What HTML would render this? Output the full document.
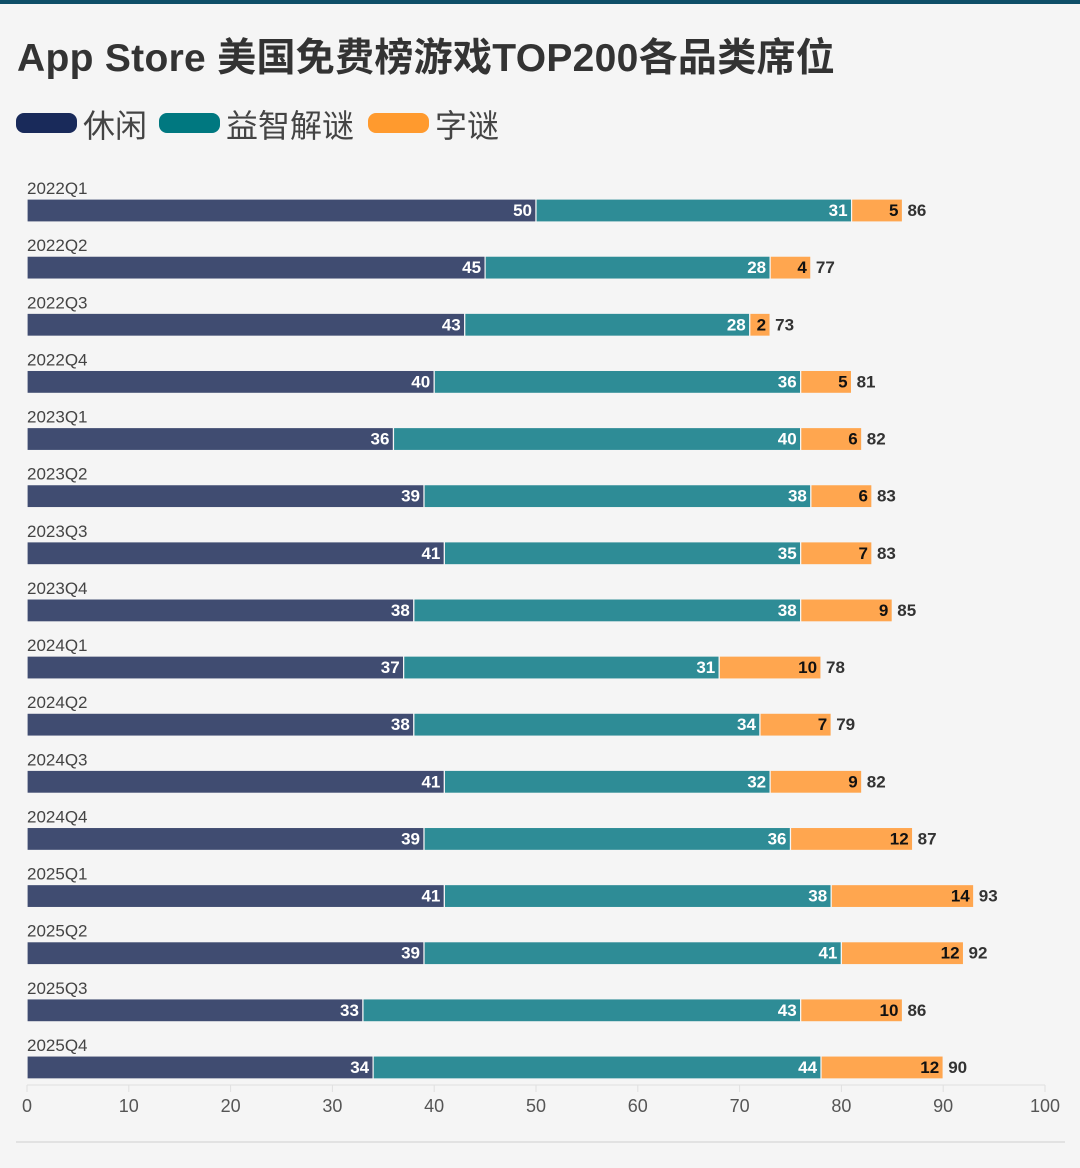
<!DOCTYPE html>
<html><head><meta charset="utf-8">
<style>
html,body{margin:0;padding:0;background:#f5f5f5;}
body{width:1080px;height:1168px;overflow:hidden;position:relative;font-family:"Liberation Sans","Noto Sans CJK SC",sans-serif;}
</style></head>
<body>
<div style="position:absolute;left:0;top:0;width:1080px;height:4px;background:#0e4f68;"></div>
<div style="position:absolute;left:17px;top:27px;font-size:39px;letter-spacing:0.3px;font-weight:bold;color:#333;font-family:'Liberation Sans','Noto Sans CJK SC',sans-serif;white-space:nowrap;">App Store 美国免费榜游戏TOP200各品类席位</div>
<div style="position:absolute;left:16px;top:104px;height:44px;font-size:32px;color:#444;white-space:nowrap;">
 <span style="position:absolute;left:0;top:0;"><span style="position:absolute;left:0;top:9px;width:61px;height:20px;border-radius:8px;background:#192a5a;"></span><span style="position:absolute;left:67px;top:-3px;">休闲</span></span>
 <span style="position:absolute;left:143px;top:0;"><span style="position:absolute;left:0;top:9px;width:61px;height:20px;border-radius:8px;background:#007880;"></span><span style="position:absolute;left:67px;top:-3px;">益智解谜</span></span>
 <span style="position:absolute;left:352px;top:0;"><span style="position:absolute;left:0;top:9px;width:61px;height:20px;border-radius:8px;background:#ff9a2e;"></span><span style="position:absolute;left:67px;top:-3px;">字谜</span></span>
</div>
<svg id="chart" width="1080" height="1168" style="position:absolute;left:0;top:0;" xmlns="http://www.w3.org/2000/svg"></svg>
<script>
const categories=["2022Q1","2022Q2","2022Q3","2022Q4","2023Q1","2023Q2","2023Q3","2023Q4","2024Q1","2024Q2","2024Q3","2024Q4","2025Q1","2025Q2","2025Q3","2025Q4"];
const casual=[50,45,43,40,36,39,41,38,37,38,41,39,41,39,33,34];
const puzzle=[31,28,28,36,40,38,35,38,31,34,32,36,38,41,43,44];
const word=[5,4,2,5,6,6,7,9,10,7,9,12,14,12,10,12];
const ticks=[0,10,20,30,40,50,60,70,80,90,100];
const svg=document.getElementById('chart');
const NS='http://www.w3.org/2000/svg';
const x0=27,x1=1045,xmax=100;
function xs(v){return x0+(x1-x0)*v/xmax;}
function yRow(i){return 199+i*57.13;}
function mk(t,a){const e=document.createElementNS(NS,t);for(const k in a)e.setAttribute(k,a[k]);svg.appendChild(e);return e;}
const colors=['#404c71','#2e8c96','#ffa64f'];
const names=['casual','puzzle','word'];
const series=[casual,puzzle,word];
const ax=mk('line',{x1:x0,x2:x1,y1:1085,y2:1085,stroke:'#e0e0e0','stroke-width':1});


ticks.forEach(t=>{
 const tl=mk('line',{x1:xs(t),x2:xs(t),y1:1085,y2:1092,stroke:'#e0e0e0'});
 
 
 const tx=mk('text',{x:xs(t),y:1112,'text-anchor':'middle','font-size':18,fill:'#555','font-family':'Liberation Sans, sans-serif'});
 tx.textContent=t;
 
 
});
categories.forEach((c,i)=>{
 const y=yRow(i);
 const lab=mk('text',{x:27,y:y-5,'font-size':17,fill:'#444','font-family':'Liberation Sans, sans-serif'});
 lab.textContent=c;
 
 
 let acc=0;
 series.forEach((s,k)=>{
  const v=s[i];
  const r=mk('rect',{x:xs(acc),y:y,width:xs(acc+v)-xs(acc),height:23,fill:colors[k],stroke:'#f5f5f5','stroke-width':1.2});
  
  
  acc+=v;
  const t=mk('text',{x:xs(acc)-4,y:y+17,'text-anchor':'end','font-size':17,'font-weight':'bold',fill:k==2?'#111':'#fff','font-family':'Liberation Sans, sans-serif'});
  t.textContent=v;
  
  
 });
 const tot=mk('text',{x:xs(acc)+5,y:y+17,'font-size':17,'font-weight':'bold',fill:'#333','font-family':'Liberation Sans, sans-serif'});
 tot.textContent=acc;
 
 
});
const bl=mk('line',{x1:16,x2:1065,y1:1142,y2:1142,stroke:'#dcdcdc','stroke-width':1.5});


</script>
</body></html>
